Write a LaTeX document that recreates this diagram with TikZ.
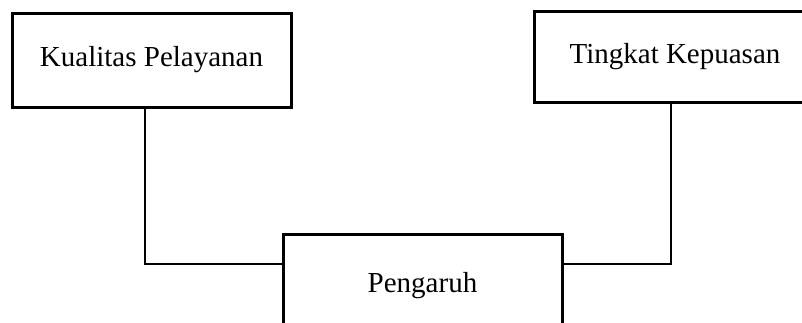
\documentclass[tikz,border=0pt]{standalone}
\usepackage{fontspec}
\setmainfont{Liberation Serif}
\begin{document}
\begin{tikzpicture}[x=1pt,y=-1pt,
  box/.style={draw=black,line width=3pt,rectangle,inner sep=0pt,
    font=\fontsize{29}{34}\selectfont},
  link/.style={draw=black,line width=2pt}]
\useasboundingbox (0,0) rectangle (802,322);
\clip (0,0) rectangle (802,322);
\node[box,minimum width=279pt,minimum height=94pt] (kp) at (151.5,60) {Kualitas Pelayanan};
\node[box,minimum width=282pt,minimum height=91pt] (tk) at (675,56.5) {Tingkat Kepuasan};
\node[box,minimum width=279pt,minimum height=104pt] (pg) at (422.5,286) {Pengaruh};
\coordinate (c1) at (144.5,263.5);
\coordinate (c2) at (670.5,263.5);
\draw[link] (kp.south -| c1) -- (c1) -- (c1 -| pg.west);
\draw[link] (tk.south -| c2) -- (c2) -- (c2 -| pg.east);
\end{tikzpicture}
\end{document}
